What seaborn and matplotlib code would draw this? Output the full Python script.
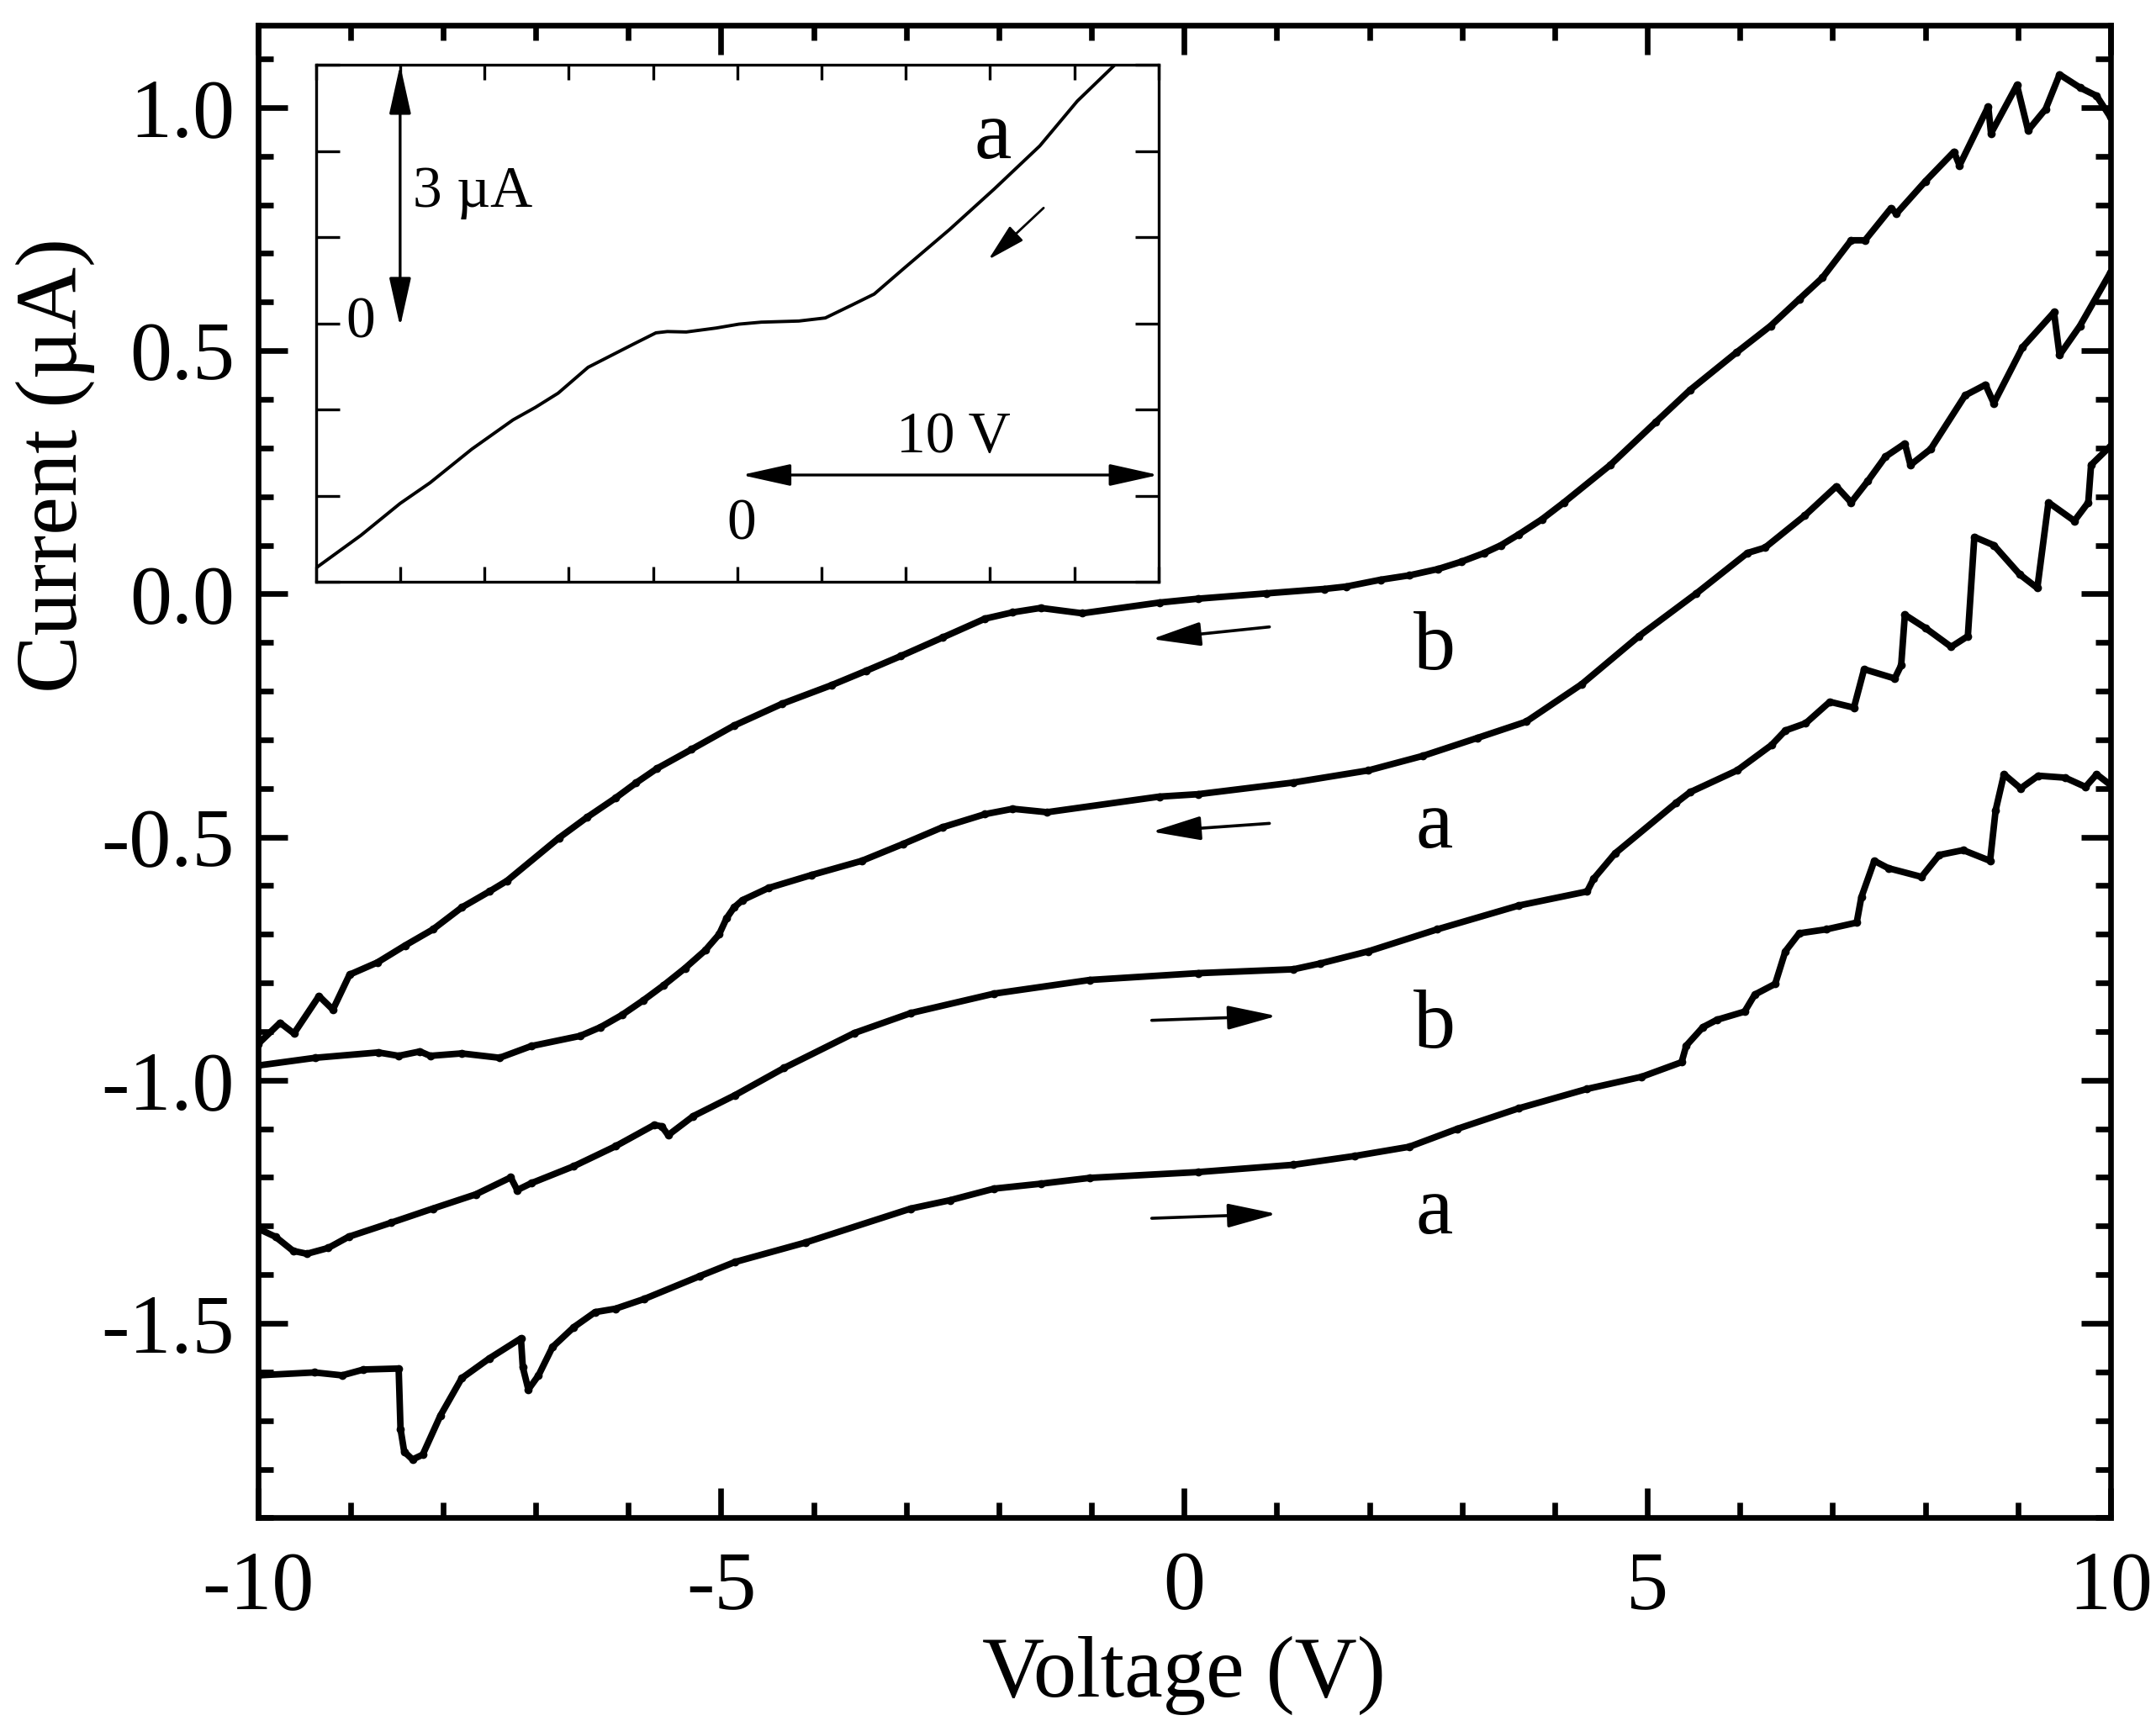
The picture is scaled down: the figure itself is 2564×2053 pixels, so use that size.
import numpy as np
import pandas as pd
import seaborn as sns
import matplotlib.pyplot as plt
from matplotlib.ticker import MultipleLocator

# data (V, uA)
# b, sweep down (top curve)
b_down_v = [-10.0, -9.76, -9.61, -9.34, -9.19, -9.01, -8.71, -8.41, -8.11, -7.80, -7.5, -7.31,
            -6.75, -6.45, -6.14, -5.92, -5.69, -5.32, -4.86, -4.34, -3.81, -3.43, -3.06, -2.61,
            -2.15, -1.85, -1.55, -1.10, -0.27, 0.15, 0.89, 1.51, 1.75, 2.12, 2.43, 2.74, 2.99,
            3.24, 3.42, 3.61, 3.86, 4.10, 4.60, 5.09, 5.46, 5.96, 6.33, 6.64, 6.89, 7.20,
            7.35, 7.63, 7.69, 8.0, 8.31, 8.37, 8.68, 8.71, 8.99, 9.11, 9.30, 9.45, 9.67, 9.85, 10.0]
b_down_i = [-0.926, -0.882, -0.904, -0.827, -0.855, -0.783, -0.758, -0.723, -0.690, -0.645, -0.612, -0.59,
            -0.502, -0.460, -0.420, -0.389, -0.359, -0.320, -0.271, -0.226, -0.188, -0.158, -0.128, -0.090,
            -0.051, -0.038, -0.029, -0.040, -0.018, -0.010, 0.001, 0.010, 0.015, 0.029, 0.038, 0.051, 0.066,
            0.084, 0.100, 0.122, 0.153, 0.188, 0.265, 0.353, 0.419, 0.496, 0.551, 0.606, 0.650, 0.727,
            0.727, 0.793, 0.782, 0.848, 0.909, 0.881, 1.002, 0.947, 1.046, 0.953, 0.997, 1.068, 1.041, 1.024, 0.98]

# a, sweep down
a_down_v = [-10.0, -9.38, -8.70, -8.48, -8.25, -8.14, -7.80, -7.39, -7.05, -6.52, -6.30, -6.07,
            -5.84, -5.62, -5.39, -5.17, -5.02, -4.94, -4.86, -4.77, -4.49, -4.02, -3.48, -3.03,
            -2.61, -2.15, -1.85, -1.48, -0.27, 0.15, 1.18, 1.99, 2.58, 3.17, 3.69, 4.29, 4.91,
            5.53, 6.08, 6.27, 6.70, 7.04, 7.20, 7.38, 7.57, 7.78, 7.84, 8.06, 8.43, 8.65, 8.74,
            9.05, 9.39, 9.45, 9.67, 10.0]
a_down_i = [-0.970, -0.954, -0.943, -0.950, -0.941, -0.950, -0.945, -0.954, -0.930, -0.909, -0.891, -0.866,
            -0.836, -0.805, -0.770, -0.733, -0.700, -0.667, -0.645, -0.630, -0.605, -0.578, -0.549, -0.514,
            -0.480, -0.453, -0.442, -0.449, -0.417, -0.412, -0.388, -0.363, -0.333, -0.296, -0.263, -0.186, -0.087,
            0.001, 0.084, 0.095, 0.161, 0.221, 0.188, 0.232, 0.282, 0.309, 0.265, 0.298, 0.408, 0.430, 0.392,
            0.507, 0.579, 0.491, 0.551, 0.661]

# b, sweep up
b_up_v = [-10.0, -9.81, -9.62, -9.47, -9.24, -9.02, -8.56, -8.11, -7.65, -7.27, -7.20, -7.05,
          -6.59, -6.14, -5.72, -5.64, -5.57, -5.30, -4.85, -4.32, -3.56, -2.95, -2.05, -1.02,
          0.15, 1.18, 1.47, 1.99, 2.73, 3.61, 4.35, 4.42, 4.65, 5.31, 5.46, 5.97, 6.34, 6.49,
          6.71, 6.97, 7.23, 7.34, 7.67, 7.74, 7.78, 8.0, 8.28, 8.46, 8.53, 8.74, 9.02, 9.21,
          9.33, 9.61, 9.76, 9.79, 10.0]
b_up_i = [-1.305, -1.322, -1.351, -1.357, -1.345, -1.322, -1.293, -1.264, -1.235, -1.200, -1.226, -1.212,
          -1.177, -1.136, -1.092, -1.095, -1.113, -1.074, -1.031, -0.975, -0.903, -0.862, -0.822, -0.794,
          -0.780, -0.772, -0.760, -0.735, -0.690, -0.641, -0.612, -0.586, -0.534, -0.430, -0.408, -0.363, -0.311, -0.281,
          -0.266, -0.222, -0.234, -0.155, -0.174, -0.147, -0.043, -0.070, -0.109, -0.087, 0.117, 0.100, 0.040, 0.012,
          0.188, 0.150, 0.188, 0.265, 0.304]

# a, sweep up (bottom curve)
a_up_v = [-10.0, -9.39, -9.09, -8.86, -8.48, -8.46, -8.42, -8.33, -8.22, -8.03, -7.80, -7.5,
          -7.16, -7.14, -7.08, -6.97, -6.82, -6.59, -6.36, -6.14, -5.83, -5.23, -4.85, -4.09,
          -2.95, -2.53, -2.05, -1.55, -1.02, 0.15, 1.18, 1.84, 2.43, 2.95, 3.61, 4.35, 4.94, 5.37,
          5.42, 5.60, 5.75, 6.05, 6.16, 6.38, 6.49, 6.64, 6.93, 7.26, 7.31, 7.45, 7.60, 7.96,
          8.15, 8.41, 8.70, 8.76, 8.85, 9.03, 9.22, 9.51, 9.73, 9.85, 10.0]
a_up_i = [-1.607, -1.601, -1.607, -1.595, -1.593, -1.717, -1.764, -1.780, -1.770, -1.690, -1.613, -1.572,
          -1.531, -1.590, -1.636, -1.607, -1.549, -1.508, -1.477, -1.470, -1.450, -1.403, -1.374, -1.334,
          -1.264, -1.247, -1.223, -1.213, -1.201, -1.189, -1.174, -1.156, -1.137, -1.100, -1.058, -1.018, -0.993, -0.963,
          -0.929, -0.891, -0.876, -0.859, -0.824, -0.802, -0.735, -0.698, -0.690, -0.676, -0.624, -0.549, -0.564, -0.582,
          -0.537, -0.527, -0.549, -0.445, -0.371, -0.400, -0.374, -0.378, -0.397, -0.371, -0.393]

# inset curve (a, sweep down, wide range)
inset_v = [-10.0, -8.93, -8.0, -7.29, -6.3, -5.32, -4.79, -4.25, -3.54, -3.18, -2.46, -1.93,
           -1.66, -1.21, -0.5, 0.04, 0.57, 1.46, 2.09, 2.71, 3.25, 3.96, 5.04, 6.1, 7.18, 8.07, 8.96]
inset_i = [-2.84, -2.46, -2.09, -1.85, -1.46, -1.12, -0.975, -0.81, -0.51, -0.42, -0.24, -0.11,
           -0.095, -0.10, -0.054, -0.009, 0.014, 0.027, 0.063, 0.21, 0.34, 0.64, 1.09, 1.56, 2.06, 2.58, 3.0]

curve_labels = ['b', 'a', 'b', 'a']
label_v = [2.7, 2.7, 2.7, 2.7]
label_i = [-0.113, -0.48, -0.891, -1.273]

sns.set_theme(style="ticks")
plt.rcParams['font.family'] = ['Liberation Serif', 'DejaVu Serif']
plt.rcParams['axes.unicode_minus'] = False
for key in ['text.color', 'axes.labelcolor', 'xtick.color', 'ytick.color', 'axes.edgecolor']:
    plt.rcParams[key] = 'black'

fig = plt.figure(figsize=(12.82, 10.265), dpi=200)
ax = fig.add_axes([0.1196, 0.1206, 0.8593, 0.865])

curves = [(b_down_v, b_down_i), (a_down_v, a_down_i), (b_up_v, b_up_i), (a_up_v, a_up_i)]
for v, i in curves:
    df = pd.DataFrame({'V': v, 'I': i})
    sns.lineplot(data=df, x='V', y='I', ax=ax, sort=False, estimator=None,
                 color='black', lw=2.8, marker='o', markersize=3.5, markeredgewidth=0)

for t, xv, yv in zip(curve_labels, label_v, label_i):
    ax.text(xv, yv, t, fontsize=36, ha='center', va='center')

arr = dict(arrowstyle='-|>,head_length=0.9,head_width=0.22', color='black', lw=1.3,
           mutation_scale=20, shrinkA=0, shrinkB=0)
ax.annotate('', xy=(-0.35, -0.093), xytext=(0.92, -0.068), arrowprops=arr)
ax.annotate('', xy=(-0.35, -0.489), xytext=(0.92, -0.472), arrowprops=arr)
ax.annotate('', xy=(1.0, -0.868), xytext=(-0.35, -0.877), arrowprops=arr)
ax.annotate('', xy=(1.0, -1.275), xytext=(-0.35, -1.284), arrowprops=arr)

ax.set_xlim(-10, 10)
ax.set_ylim(-1.9, 1.17)
ax.xaxis.set_major_locator(MultipleLocator(5))
ax.xaxis.set_minor_locator(MultipleLocator(1))
ax.yaxis.set_major_locator(MultipleLocator(0.5))
ax.yaxis.set_minor_locator(MultipleLocator(0.1))
ax.yaxis.set_major_formatter(plt.FuncFormatter(lambda y, p: f'{y:.1f}'))
ax.tick_params(which='both', direction='in', top=True, right=True, width=2.4, labelsize=36)
ax.tick_params(which='major', length=12.5, pad=10)
ax.tick_params(which='minor', length=6.5)
ax.tick_params(axis='x', which='major', pad=14)
for s in ax.spines.values():
    s.set_linewidth(2.4)
    s.set_color('black')
ax.set_xlabel('Voltage (V)', fontsize=37, labelpad=4)
ax.set_ylabel('Current (µA)', fontsize=37)
ax.yaxis.set_label_coords(-0.088, 0.705)

# inset
axi = fig.add_axes([0.1465, 0.6629, 0.3909, 0.2995])
sns.lineplot(x=inset_v, y=inset_i, ax=axi, sort=False, estimator=None, color='black', lw=1.4)
axi.set_xlim(-10, 10)
axi.set_ylim(-3, 3)
axi.xaxis.set_major_locator(MultipleLocator(2))
axi.yaxis.set_major_locator(MultipleLocator(1))
axi.tick_params(which='both', direction='in', top=True, right=True, width=1.2,
                labelbottom=False, labelleft=False)
axi.tick_params(axis='x', length=6.5)
axi.tick_params(axis='y', length=10)
for s in axi.spines.values():
    s.set_linewidth(1.2)
    s.set_color('black')

arr2 = dict(arrowstyle='<|-|>,head_length=0.9,head_width=0.2', color='black', lw=1.2,
            mutation_scale=20, shrinkA=0, shrinkB=0)
axi.annotate('', xy=(-8.0, 3.0), xytext=(-8.0, -0.04), arrowprops=arr2)
axi.annotate('', xy=(10.0, -1.76), xytext=(0.1, -1.76), arrowprops=arr2)
axi.annotate('', xy=(5.96, 0.74), xytext=(7.27, 1.34),
             arrowprops=dict(arrowstyle='-|>,head_length=0.7,head_width=0.18', color='black',
                             lw=1.0, mutation_scale=20, shrinkA=0, shrinkB=0))
axi.text(-7.7, 1.52, '3 µA', fontsize=25, ha='left', va='center')
axi.text(-8.93, 0.0, '0', fontsize=25, ha='center', va='center')
axi.text(5.14, -1.33, '10 V', fontsize=25, ha='center', va='center')
axi.text(0.09, -2.34, '0', fontsize=25, ha='center', va='center')
axi.text(6.07, 2.15, 'a', fontsize=36, ha='center', va='center')

fig.savefig('out.png', dpi=200)
